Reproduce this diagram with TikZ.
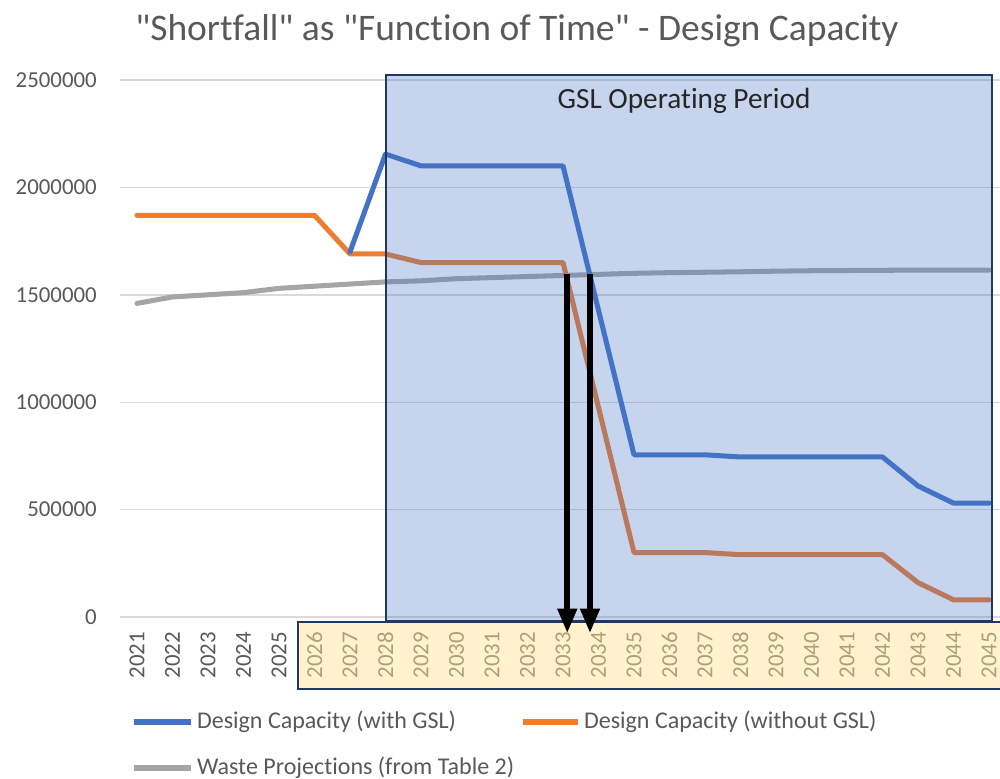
\documentclass[tikz,border=0pt]{standalone}
\usepackage{fontspec}
\setmainfont{Carlito}[Ligatures={TeXOff,CommonOff}]
\usetikzlibrary{arrows.meta, positioning}
\definecolor{capBlue}{RGB}{68,114,196}
\definecolor{capOrange}{RGB}{237,125,49}
\definecolor{wasteGray}{RGB}{165,165,165}
\definecolor{axisText}{RGB}{89,89,89}
\definecolor{gridGray}{RGB}{217,217,217}
\definecolor{frameNavy}{RGB}{32,56,100}
\definecolor{periodGold}{RGB}{255,230,153}

\begin{document}
\begin{tikzpicture}[x=0.03cm, y=-0.03cm,
series/.style={line width=4.3pt, line join=round, line cap=round},
gridline/.style={draw=gridGray, line width=1.2pt},
ticklabel/.style={text=axisText, inner sep=0pt, font=\fontsize{19.5}{22}\selectfont},
legendtext/.style={text=axisText, inner sep=0pt, font=\fontsize{20.5}{24}\selectfont},
periodbox/.style={draw=frameNavy, line width=1.8pt},
drop/.style={-{Triangle[length=21pt, width=16pt]}, line width=4.8pt, black}]

\useasboundingbox (0,0) rectangle (1000,779);

% horizontal grid and value labels
\foreach \v/\lab in {0/0, 1/500000, 2/1000000, 3/1500000, 4/2000000, 5/2500000} {
  \draw[gridline] (120,{617-107.4*\v}) -- (1000,{617-107.4*\v});
  \node[ticklabel, anchor=east] at (97,{617-107.4*\v}) {\lab};
}

% year labels, read upwards
\foreach \i in {0,...,24} {
  \pgfmathtruncatemacro\yr{2021+\i}
  \node[ticklabel, rotate=90, anchor=east] at ({137+35.5*\i},632) {\yr};
}

% data series: x = years after 2021, y = millions
\begin{scope}[shift={(137,617)}, x=1.065cm, y=6.444cm]
\draw[series, wasteGray] plot coordinates {(0,1.46) (1,1.49) (2,1.50) (3,1.51)
  (4,1.53) (5,1.54) (6,1.55) (7,1.56) (8,1.565) (9,1.575) (10,1.58) (11,1.585)
  (12,1.59) (13,1.595) (14,1.60) (15,1.603) (16,1.605) (17,1.607) (18,1.61)
  (19,1.612) (20,1.613) (21,1.614) (22,1.615) (23,1.615) (24,1.615)};
\draw[series, capOrange] plot coordinates {(0,1.87) (1,1.87) (2,1.87) (3,1.87)
  (4,1.87) (5,1.87) (6,1.69) (7,1.69) (8,1.65) (9,1.65) (10,1.65) (11,1.65)
  (12,1.65) (13,0.975) (14,0.30) (15,0.30) (16,0.30) (17,0.29) (18,0.29)
  (19,0.29) (20,0.29) (21,0.29) (22,0.16) (23,0.08) (24,0.08)};
\draw[series, capBlue] plot coordinates {(6,1.70) (7,2.155) (8,2.10) (9,2.10)
  (10,2.10) (11,2.10) (12,2.10) (13,1.4275) (14,0.755) (15,0.755) (16,0.755)
  (17,0.745) (18,0.745) (19,0.745) (20,0.745) (21,0.745) (22,0.61) (23,0.53)
  (24,0.53)};

\coordinate (withoutCross) at (12.12,1.597);
\coordinate (withCross) at (12.76,1.597);
\coordinate (withoutFoot) at (12.12,-0.075);
\coordinate (withFoot) at (12.76,-0.075);
\end{scope}

% shaded operating period and highlighted years
\fill[capBlue, fill opacity=0.3] (386,75) rectangle (992,621);
\draw[periodbox] (386,75) rectangle (992,621);
\fill[periodGold, fill opacity=0.5] (298,622) rectangle (1006,689);
\draw[periodbox] (298,622) rectangle (1006,689);

\node[text=black!85, font=\fontsize{25}{30}\selectfont] (period) at (684,101) {GSL Operating Period};

\draw[drop] (withoutCross) -- (withoutFoot);
\draw[drop] (withCross) -- (withFoot);

% legend
\draw[series, line cap=butt, capBlue] (134,722) -- (191,722)
  node[legendtext, right=3pt] (legWith) {Design Capacity (with GSL)};
\draw[series, line cap=butt, capOrange] (523,722) -- (578,722)
  node[legendtext, right=3pt] (legWithout) {Design Capacity (without GSL)};
\draw[series, line cap=butt, wasteGray] (134,768) -- (191,768)
  node[legendtext, right=3pt] (legWaste) {Waste Projections (from Table 2)};

\node[text=axisText, anchor=base, font=\fontsize{32}{38}\selectfont] (title) at (517,40)
  {"Shortfall" as "Function of Time" - Design Capacity};
\end{tikzpicture}
\end{document}
